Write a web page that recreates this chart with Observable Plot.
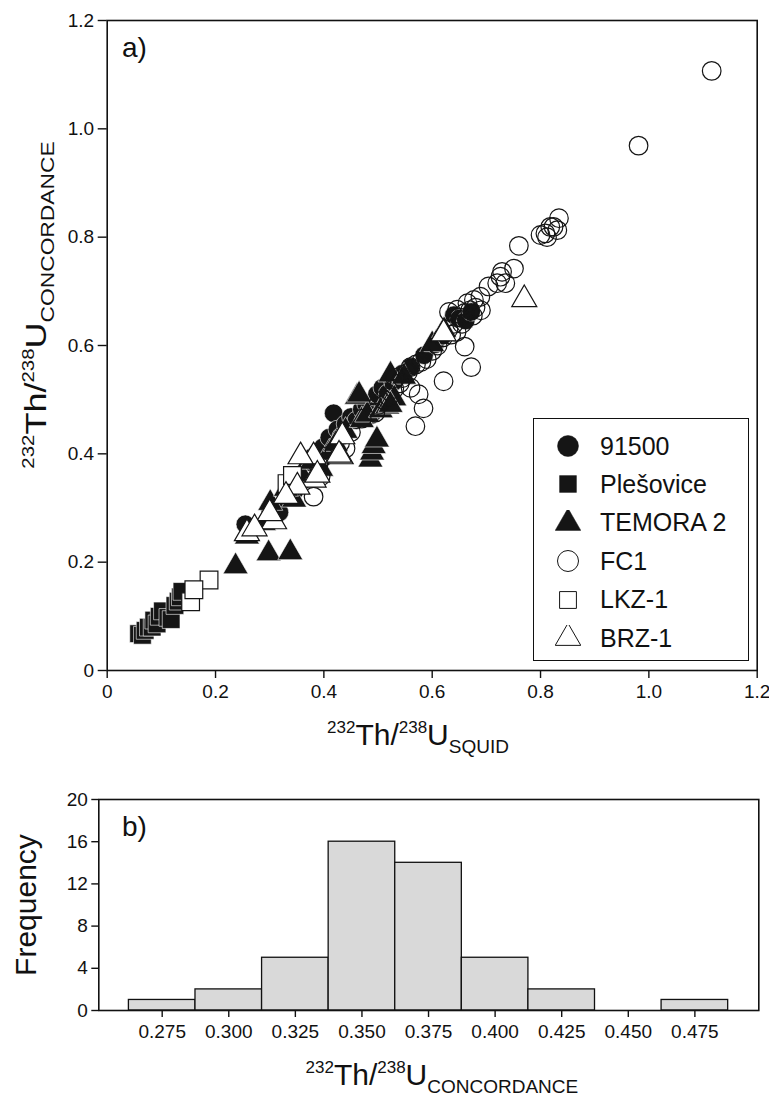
<!DOCTYPE html>
<html>
<head>
<meta charset="utf-8">
<script src="https://cdn.jsdelivr.net/npm/d3@7"></script>
<script src="https://cdn.jsdelivr.net/npm/@observablehq/plot@0.6"></script>
<style>
  html, body { margin: 0; padding: 0; background: #fff; }
  #wrap { position: relative; width: 769px; height: 1108px; font-family: "Liberation Sans", Arial, sans-serif; color: #111; }
  #wrap > svg { position: absolute; left: 0; }
  .ttl { position: absolute; white-space: nowrap; font-size: 30px; line-height: 1; }
  .ttl sup { font-size: 17px; vertical-align: 0; position: relative; top: -12px; }
  .ttl sub { font-size: 19px; vertical-align: 0; position: relative; top: 8px; }
  .panel { position: absolute; font-size: 28px; line-height: 1; }
  #legend { position: absolute; left: 533px; top: 418px; width: 216px; height: 243px; border: 1.5px solid #111; background: #fff; box-sizing: border-box; }
  .li { position: absolute; left: 0; height: 30px; display: flex; align-items: center; font-size: 25px; }
  .li svg { display: block; margin-left: 21px; margin-right: 19px; }
</style>
</head>
<body>
<div id="wrap"></div>
<script>
// ---------- data: panel a ----------
const series = ["91500", "Plešovice", "TEMORA 2", "FC1", "LKZ-1", "BRZ-1"];

const s91500 = [
  [0.255,0.270],[0.300,0.300],[0.318,0.292],[0.345,0.330],[0.360,0.350],[0.372,0.385],[0.380,0.395],
  [0.388,0.402],[0.398,0.412],[0.410,0.430],[0.418,0.475],[0.425,0.445],[0.432,0.432],[0.440,0.455],
  [0.450,0.468],[0.460,0.462],[0.470,0.482],[0.478,0.492],[0.488,0.472],[0.498,0.510],[0.508,0.522],
  [0.518,0.512],[0.528,0.532],[0.545,0.548],[0.560,0.560],[0.585,0.582],[0.605,0.602],[0.620,0.618],
  [0.640,0.656],[0.650,0.650],[0.662,0.646],[0.672,0.662]
];
const sPlesovice = [
  [0.058,0.068],[0.065,0.065],[0.070,0.074],[0.076,0.080],[0.083,0.080],[0.086,0.093],[0.092,0.086],
  [0.096,0.100],[0.102,0.110],[0.112,0.098],[0.118,0.094],[0.125,0.120],[0.131,0.128],[0.135,0.136],[0.138,0.146]
];
const sTemora = [
  [0.237,0.192],[0.298,0.216],[0.338,0.218],[0.258,0.247],[0.289,0.272],[0.301,0.309],[0.345,0.315],
  [0.330,0.335],[0.358,0.362],[0.378,0.385],[0.395,0.372],[0.410,0.402],[0.422,0.418],[0.440,0.442],
  [0.461,0.505],[0.470,0.462],[0.480,0.472],[0.486,0.389],[0.489,0.402],[0.492,0.414],[0.498,0.426],
  [0.505,0.480],[0.517,0.487],[0.523,0.546],[0.548,0.542],[0.530,0.502],[0.465,0.509],[0.523,0.490],
  [0.600,0.602],[0.622,0.628]
];
const sFC1 = [
  [1.116,1.107],[0.981,0.969],[0.834,0.835],[0.831,0.813],[0.824,0.819],[0.818,0.819],[0.812,0.800],
  [0.809,0.807],[0.800,0.804],[0.760,0.784],[0.751,0.742],[0.729,0.736],[0.726,0.727],[0.735,0.715],
  [0.720,0.715],[0.704,0.709],[0.689,0.690],[0.677,0.684],[0.665,0.678],[0.646,0.666],[0.631,0.662],
  [0.660,0.598],[0.672,0.560],[0.621,0.534],[0.584,0.484],[0.569,0.451],
  [0.600,0.590],[0.610,0.600],[0.620,0.615],[0.630,0.630],[0.640,0.640],[0.650,0.652],[0.660,0.660],
  [0.670,0.665],[0.680,0.670],[0.690,0.665],[0.675,0.655],[0.655,0.640],[0.645,0.625],[0.635,0.620],
  [0.590,0.575],[0.580,0.570],[0.570,0.565],[0.560,0.560],[0.555,0.550],[0.545,0.540],[0.540,0.530],
  [0.530,0.520],[0.520,0.505],[0.510,0.500],[0.500,0.490],[0.495,0.476],[0.560,0.522],[0.575,0.510],
  [0.470,0.465],[0.450,0.440],[0.430,0.420],[0.400,0.395],[0.390,0.380],[0.381,0.321],[0.394,0.358],
  [0.420,0.405],[0.440,0.410],[0.532,0.540]
];
const sLKZ = [
  [0.188,0.167],[0.154,0.127],[0.160,0.149],[0.332,0.345],[0.342,0.360]
];
const sBRZ = [
  [0.770,0.685],[0.621,0.622],[0.434,0.432],[0.431,0.395],[0.381,0.395],[0.381,0.352],[0.258,0.253],
  [0.308,0.275],[0.357,0.395],[0.388,0.361],[0.351,0.339],[0.428,0.398],
  [0.330,0.322],[0.300,0.290],[0.272,0.262]
];

const axisTicksA = [0, 0.2, 0.4, 0.6, 0.8, 1.0, 1.2];

// ---------- data: panel b ----------
const binCenters = [0.275, 0.300, 0.325, 0.350, 0.375, 0.400, 0.425, 0.450, 0.475];
const binCounts  = [1, 2, 5, 16, 14, 5, 2, 0, 1];
const binWidth = 0.025;
const freqTicks = [0, 4, 8, 12, 16, 20];

// ---------- build ----------
const toRows = (arr, name) => arr.map(([x, y]) => ({x, y, series: name}));
const rows = {
  "91500": toRows(s91500, "91500"),
  "Plešovice": toRows(sPlesovice, "Plešovice"),
  "TEMORA 2": toRows(sTemora, "TEMORA 2"),
  "FC1": toRows(sFC1, "FC1"),
  "LKZ-1": toRows(sLKZ, "LKZ-1"),
  "BRZ-1": toRows(sBRZ, "BRZ-1")
};
const style = {
  "91500":     {symbol: "circle",   fill: "#151515", stroke: "white", strokeWidth: 0.6, r: 9.3},
  "Plešovice": {symbol: "square",   fill: "#151515", stroke: "white", strokeWidth: 0.6, r: 10},
  "TEMORA 2":  {symbol: "triangle", fill: "#151515", stroke: "white", strokeWidth: 0.6, r: 9.3},
  "FC1":       {symbol: "circle",   fill: "none",    stroke: "#151515", strokeWidth: 1.2, r: 9.3},
  "LKZ-1":     {symbol: "square",   fill: "white",   stroke: "#151515", strokeWidth: 1.2, r: 10},
  "BRZ-1":     {symbol: "triangle", fill: "white",   stroke: "#151515", strokeWidth: 1.2, r: 9.3}
};
const fmtA = d => d === 0 ? "0" : d.toFixed(1);

const wrap = document.getElementById("wrap");

const chartA = Plot.plot({
  width: 769, height: 770,
  marginLeft: 106.7, marginRight: 12.3, marginTop: 20, marginBottom: 100,
  style: {fontFamily: "Liberation Sans, Arial, sans-serif", fontSize: "19px", color: "#111", background: "white", overflow: "visible"},
  x: {domain: [0, 1.2]},
  y: {domain: [0, 1.2]},
  marks: [
    ...series.map(s => Plot.dot(rows[s], {x: "x", y: "y", ...style[s]})),
    Plot.frame({stroke: "#111", strokeWidth: 1.6}),
    Plot.axisX({ticks: axisTicksA, tickFormat: fmtA, tickSize: 8, tickPadding: 6, label: null, stroke: "#111", strokeWidth: 1.4}),
    Plot.axisY({ticks: axisTicksA, tickFormat: fmtA, tickSize: 9, tickPadding: 4, label: null, stroke: "#111", strokeWidth: 1.4})
  ]
});
chartA.style.top = "0px";
wrap.appendChild(chartA);

const barRows = binCenters.map((c, i) => ({x1: c - binWidth / 2, x2: c + binWidth / 2, count: binCounts[i]})).filter(d => d.count > 0);

const chartB = Plot.plot({
  width: 769, height: 328,
  marginLeft: 98.3, marginRight: 10.7, marginTop: 19, marginBottom: 98,
  style: {fontFamily: "Liberation Sans, Arial, sans-serif", fontSize: "19px", color: "#111", background: "white", overflow: "visible"},
  x: {domain: [0.2512, 0.499]},
  y: {domain: [0, 20]},
  marks: [
    Plot.rect(barRows, {x1: "x1", x2: "x2", y1: 0, y2: "count", fill: "#d9d9d9", stroke: "#111", strokeWidth: 1.3}),
    Plot.frame({stroke: "#111", strokeWidth: 1.6}),
    Plot.axisX({ticks: binCenters, tickFormat: d3.format(".3f"), tickSize: 7, tickPadding: 7, label: null, stroke: "#111", strokeWidth: 1.4}),
    Plot.axisY({ticks: freqTicks, tickSize: 7, tickPadding: 4, label: null, stroke: "#111", strokeWidth: 1.4})
  ]
});
chartB.style.top = "780px";
wrap.appendChild(chartB);

// ---------- text overlays ----------
function addHTML(cls, html, css) {
  const d = document.createElement("div");
  d.className = cls;
  d.innerHTML = html;
  Object.assign(d.style, css);
  wrap.appendChild(d);
  return d;
}
const thu = sub => `<sup>232</sup>Th/<sup>238</sup>U<sub>${sub}</sub>`;

addHTML("panel", "a)", {left: "122px", top: "34px"});
addHTML("panel", "b)", {left: "122px", top: "813px"});

// x title a
const xa = addHTML("ttl", thu("SQUID"), {top: "720px"});
xa.style.left = (418 - xa.offsetWidth / 2) + "px";
// y title a (rotated)
const ya = addHTML("ttl", thu("CONCORDANCE"), {});
ya.style.left = (36 - ya.offsetWidth / 2) + "px";
ya.style.top = (305 - ya.offsetHeight / 2) + "px";
ya.style.transform = "rotate(-90deg) scaleX(1.2)";
// x title b
const xb = addHTML("ttl", thu("CONCORDANCE"), {top: "1060px"});
xb.style.left = (442 - xb.offsetWidth / 2) + "px";
// y title b
const yb = addHTML("ttl", "Frequency", {});
yb.style.left = (26 - yb.offsetWidth / 2) + "px";
yb.style.top = (905 - yb.offsetHeight / 2) + "px";
yb.style.transform = "rotate(-90deg)";

// ---------- legend ----------
const legend = document.createElement("div");
legend.id = "legend";
wrap.appendChild(legend);
const symPath = {
  circle: d3.symbol(d3.symbolCircle, Math.PI * 10.5 * 10.5)(),
  square: d3.symbol(d3.symbolSquare, Math.PI * 9.5 * 9.5)(),
  triangle: d3.symbol(d3.symbolTriangle, Math.PI * 9.5 * 9.5)()
};
series.forEach((s, i) => {
  const st = style[s];
  const filled = st.fill === "#151515";
  const item = document.createElement("div");
  item.className = "li";
  item.style.top = (12 + i * 38.4) + "px";
  item.innerHTML = `<svg width="26" height="26" viewBox="-13 -13 26 26"><path d="${symPath[st.symbol]}" fill="${filled ? "#151515" : "white"}" stroke="#151515" stroke-width="${filled ? 0.5 : 1}"/></svg><span>${s}</span>`;
  legend.appendChild(item);
});
</script>
</body>
</html>
